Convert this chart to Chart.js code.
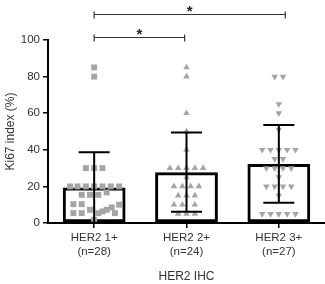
<!DOCTYPE html>
<html>
<head>
<meta charset="utf-8">
<script src="https://cdn.jsdelivr.net/npm/chart.js@4"></script>
<style>
  body { margin: 0; background: #fff; }
  #contenedor { width: 325px; height: 284px; }
</style>
</head>
<body>
<div id="contenedor"><canvas id="graficoKi67"></canvas></div>
<script>
const grupos = [['HER2 1+', '(n=28)'], ['HER2 2+', '(n=24)'], ['HER2 3+', '(n=27)']]
const medias = [19.4, 27.8, 32.3]
const desvios = [19.3, 21.6, 21.3]
const ticksY = [0, 20, 40, 60, 80, 100]

// valores individuales y su desplazamiento horizontal dentro del grupo (unidades de categoria)
const her2_1_valores = [85, 80, 30, 30, 30, 20, 20, 20, 20, 20, 20, 20, 15.4, 15.4, 15.4, 16.7, 10.3, 10.3, 10, 5.4, 5.4, 7.2, 6.3, 7.2, 8.5, 5.4, 5.4, 1.8]
const her2_1_desplaz = [0, 0, -0.09, 0, 0.09, -0.26, -0.18, -0.09, 0, 0.09, 0.18, 0.27, -0.135, -0.045, 0.045, 0.135, -0.225, -0.135, 0.27, -0.225, -0.135, -0.045, 0.09, 0.135, 0.19, 0.225, 0.045, 0]

const her2_2_valores = [85, 80, 60, 50, 40, 30, 30, 30, 30, 30, 25, 20, 20, 20, 20, 15, 15, 15, 10, 10, 10, 5, 5, 5]
const her2_2_desplaz = [0, 0, 0, 0, 0, -0.18, -0.09, 0, 0.09, 0.18, 0, -0.135, -0.045, 0.045, 0.135, -0.09, 0, 0.09, -0.135, -0.045, 0.09, -0.09, 0, 0.09]

const her2_3_valores = [80, 80, 65, 60, 51, 40, 40, 40, 40, 40, 35, 35, 30, 30, 30, 30, 25, 20, 20, 20, 20, 15, 5, 5, 5, 5, 5]
const her2_3_desplaz = [-0.045, 0.045, 0, 0, 0, -0.18, -0.09, 0, 0.09, 0.18, -0.045, 0.045, -0.135, -0.045, 0.045, 0.135, 0, -0.135, -0.045, 0.045, 0.135, 0, -0.18, -0.09, 0, 0.09, 0.18]

const comparaciones = [
    { desde: 0, hasta: 0.98, nivel: 101.8, texto: '*' },
    { desde: 0, hasta: 2.07, nivel: 114.4, texto: '*' }
]

const puntos = (valores, desplaz, grupo) => valores.map((v, i) => ({ x: grupo + desplaz[i], y: v }))

const fuente = { family: "'Liberation Sans', Arial, sans-serif", size: 11.5 }
const fuenteTitulo = { family: "'Liberation Sans', Arial, sans-serif", size: 12 }

const barrasError = {
    id: 'barrasError',
    afterDatasetsDraw(chart) {
        const { ctx, scales: { x, y } } = chart
        ctx.save()
        ctx.strokeStyle = '#000'
        ctx.lineWidth = 2
        medias.forEach((m, i) => {
            const cx = x.getPixelForValue(i)
            const arriba = y.getPixelForValue(m + desvios[i])
            const abajo = y.getPixelForValue(Math.max(m - desvios[i], 0))
            ctx.beginPath()
            ctx.moveTo(cx, arriba)
            ctx.lineTo(cx, abajo)
            ctx.moveTo(cx - 15.5, arriba)
            ctx.lineTo(cx + 15.5, arriba)
            ctx.moveTo(cx - 15.5, abajo)
            ctx.lineTo(cx + 15.5, abajo)
            ctx.stroke()
        })
        ctx.restore()
    }
}

const corchetes = {
    id: 'corchetes',
    afterDraw(chart) {
        const { ctx, scales: { xj, y } } = chart
        ctx.save()
        ctx.strokeStyle = '#333'
        ctx.fillStyle = '#222'
        ctx.lineWidth = 1.2
        ctx.font = "bold 15px 'Liberation Sans', Arial, sans-serif"
        ctx.textAlign = 'center'
        ctx.textBaseline = 'alphabetic'
        comparaciones.forEach(c => {
            const x1 = xj.getPixelForValue(c.desde)
            const x2 = xj.getPixelForValue(c.hasta)
            const yy = Math.round(y.getPixelForValue(c.nivel)) + 0.5
            ctx.beginPath()
            ctx.moveTo(x1, yy + 4)
            ctx.lineTo(x1, yy - 3)
            ctx.moveTo(x1, yy)
            ctx.lineTo(x2, yy)
            ctx.moveTo(x2, yy + 4)
            ctx.lineTo(x2, yy - 3)
            ctx.stroke()
            ctx.fillText(c.texto, (x1 + x2) / 2, yy + 1)
        })
        ctx.restore()
    }
}

const comunPuntos = {
    type: 'scatter',
    xAxisID: 'xj',
    yAxisID: 'y',
    backgroundColor: '#a5a5a5',
    borderWidth: 0,
    order: 1
}

new Chart(document.getElementById('graficoKi67'), {
    type: 'bar',
    data: {
        labels: grupos,
        datasets: [
            {
                type: 'bar',
                data: medias,
                xAxisID: 'x',
                yAxisID: 'y',
                grouped: false,
                backgroundColor: 'rgba(255,255,255,0)',
                borderColor: '#000',
                borderWidth: 3,
                borderSkipped: false,
                barPercentage: 0.68,
                categoryPercentage: 1,
                order: 2
            },
            { ...comunPuntos, data: puntos(her2_1_valores, her2_1_desplaz, 0), pointStyle: 'rect', pointRadius: 4.2 },
            { ...comunPuntos, data: puntos(her2_2_valores, her2_2_desplaz, 1), pointStyle: 'triangle', pointRadius: 3.8 },
            { ...comunPuntos, data: puntos(her2_3_valores, her2_3_desplaz, 2), pointStyle: 'triangle', pointRotation: 180, pointRadius: 3.8 }
        ]
    },
    options: {
        responsive: true,
        maintainAspectRatio: false,
        animation: false,
        devicePixelRatio: 1,
        layout: { autoPadding: false, padding: { top: 40, right: 0, bottom: 0, left: 0 } },
        plugins: { legend: { display: false }, tooltip: { enabled: false } },
        scales: {
            x: {
                type: 'category',
                offset: true,
                grid: { display: true, drawOnChartArea: false, offset: false, tickLength: 5, color: '#000', lineWidth: 1.5 },
                border: { color: '#000', width: 2 },
                ticks: { font: fuente, color: '#333', padding: 3, maxRotation: 0 },
                title: { display: true, text: 'HER2 IHC', font: fuenteTitulo, color: '#333', padding: 0 },
                afterFit: s => { s.height = 61 }
            },
            xj: { type: 'linear', min: -0.5, max: 2.5, offset: false, display: false },
            y: {
                min: 0,
                max: 100,
                afterBuildTicks: s => { s.ticks = ticksY.map(v => ({ value: v })) },
                grid: { drawOnChartArea: false, tickLength: 5, color: '#000', lineWidth: 1.5 },
                border: { color: '#000', width: 2 },
                ticks: { font: fuente, color: '#333', padding: 3 },
                title: { display: true, text: 'Ki67 index (%)', font: fuenteTitulo, color: '#333', padding: { top: 3, bottom: 0 } },
                afterFit: s => { s.width = 48 }
            }
        }
    },
    plugins: [barrasError, corchetes]
});
</script>
</body>
</html>
